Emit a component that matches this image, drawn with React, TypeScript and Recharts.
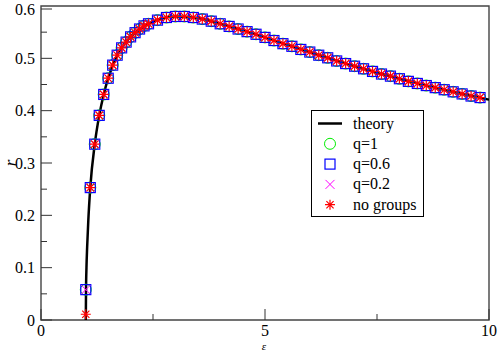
import {
  ComposedChart,
  Line,
  Scatter,
  XAxis,
  YAxis,
  ReferenceArea,
} from 'recharts'

// sample points of the simulations (epsilon)
const eps = [
  1.0, 1.1, 1.2, 1.3, 1.4, 1.5, 1.6, 1.7, 1.8, 1.9, 2.0, 2.1, 2.2, 2.3, 2.4,
  2.6, 2.8, 3.0, 3.2, 3.4, 3.6, 3.8, 4.0, 4.2, 4.4, 4.6, 4.8, 5.0, 5.2, 5.4,
  5.6, 5.8, 6.0, 6.2, 6.4, 6.6, 6.8, 7.0, 7.2, 7.4, 7.6, 7.8, 8.0, 8.2, 8.4,
  8.6, 8.8, 9.0, 9.2, 9.4, 9.6, 9.8,
]

const rQ1 = [
  0.058, 0.253, 0.336, 0.391, 0.431, 0.462, 0.487, 0.506, 0.52, 0.531, 0.541,
  0.549, 0.556, 0.562, 0.566, 0.573, 0.578, 0.58, 0.58, 0.578, 0.575, 0.571,
  0.566, 0.561, 0.556, 0.551, 0.546, 0.54, 0.534, 0.528, 0.523, 0.517, 0.512,
  0.506, 0.501, 0.495, 0.49, 0.485, 0.48, 0.475, 0.47, 0.466, 0.461, 0.456,
  0.452, 0.448, 0.444, 0.44, 0.436, 0.432, 0.428, 0.425,
]
const rQ06 = [
  0.058, 0.253, 0.336, 0.391, 0.431, 0.462, 0.487, 0.506, 0.52, 0.531, 0.541,
  0.549, 0.556, 0.562, 0.566, 0.573, 0.578, 0.58, 0.58, 0.578, 0.575, 0.571,
  0.566, 0.561, 0.556, 0.551, 0.546, 0.54, 0.534, 0.528, 0.523, 0.517, 0.512,
  0.506, 0.501, 0.495, 0.49, 0.485, 0.48, 0.475, 0.47, 0.466, 0.461, 0.456,
  0.452, 0.448, 0.444, 0.44, 0.436, 0.432, 0.428, 0.425,
]
const rQ02 = [
  0.058, 0.253, 0.336, 0.391, 0.431, 0.462, 0.487, 0.506, 0.52, 0.531, 0.541,
  0.549, 0.556, 0.562, 0.566, 0.573, 0.578, 0.58, 0.58, 0.578, 0.575, 0.571,
  0.566, 0.561, 0.556, 0.551, 0.546, 0.54, 0.534, 0.528, 0.523, 0.517, 0.512,
  0.506, 0.501, 0.495, 0.49, 0.485, 0.48, 0.475, 0.47, 0.466, 0.461, 0.456,
  0.452, 0.448, 0.444, 0.44, 0.436, 0.432, 0.428, 0.425,
]
const rNoGroups = [
  0.011, 0.253, 0.336, 0.391, 0.431, 0.462, 0.487, 0.506, 0.52, 0.531, 0.541,
  0.549, 0.556, 0.562, 0.566, 0.573, 0.578, 0.58, 0.58, 0.578, 0.575, 0.571,
  0.566, 0.561, 0.556, 0.551, 0.546, 0.54, 0.534, 0.528, 0.523, 0.517, 0.512,
  0.506, 0.501, 0.495, 0.49, 0.485, 0.48, 0.475, 0.47, 0.466, 0.461, 0.456,
  0.452, 0.448, 0.444, 0.44, 0.436, 0.432, 0.428, 0.425,
]

// theory curve
const theoryEps = [
  1.0, 1.005, 1.015, 1.03, 1.056, 1.1, 1.2, 1.3, 1.4, 1.5, 1.7, 2.0, 2.4, 3.0,
  3.5, 4.0, 5.0, 6.0, 7.0, 8.0, 9.0, 10.0,
]
const theoryR = [
  0, 0.057, 0.1, 0.139, 0.19, 0.253, 0.336, 0.391, 0.431, 0.462, 0.506, 0.541,
  0.566, 0.58, 0.577, 0.566, 0.54, 0.512, 0.485, 0.461, 0.44, 0.421,
]

const xTicks = [0, 2.5, 5, 7.5, 10]
const yTicks = [0, 0.05, 0.1, 0.15, 0.2, 0.25, 0.3, 0.35, 0.4, 0.45, 0.5, 0.55, 0.6]

const legendLabels = ['theory', 'q=1', 'q=0.6', 'q=0.2', 'no groups']

const FONT = 'Liberation Serif'
const PLOT = { left: 41, right: 489, top: 6, bottom: 320 }

const toPoints = (ys: number[]) => eps.map((x, i) => ({ x, r: ys[i] }))

const CircleMark = ({ cx, cy }: any) => (
  <circle cx={cx} cy={cy} r={5.5} fill="none" stroke="#00ee00" strokeWidth={1} />
)
const SquareMark = ({ cx, cy }: any) => (
  <rect x={cx - 5} y={cy - 5} width={10} height={10} fill="none" stroke="#0000ff" strokeWidth={1.2} />
)
const CrossMark = ({ cx, cy }: any) => (
  <path d={`M${cx - 4.5},${cy - 4.5}L${cx + 4.5},${cy + 4.5}M${cx - 4.5},${cy + 4.5}L${cx + 4.5},${cy - 4.5}`} stroke="#ff00ff" strokeWidth={1} />
)
const StarMark = ({ cx, cy }: any) => (
  <path
    d={`M${cx - 5},${cy}L${cx + 5},${cy}M${cx},${cy - 5}L${cx},${cy + 5}M${cx - 3.6},${cy - 3.6}L${cx + 3.6},${cy + 3.6}M${cx - 3.6},${cy + 3.6}L${cx + 3.6},${cy - 3.6}`}
    stroke="#ff0000"
    strokeWidth={1.2}
  />
)

const XTick = ({ x, payload }: any) => {
  const major = payload.value % 5 === 0
  return (
    <g>
      <line x1={x} x2={x} y1={PLOT.bottom} y2={PLOT.bottom - (major ? 11 : 6)} stroke="#333" />
      {major && (
        <text x={x} y={336} textAnchor="middle" fill="#000" fontFamily={FONT} fontSize={16}>
          {payload.value}
        </text>
      )}
    </g>
  )
}

const YTick = ({ y, payload }: any) => {
  const v = Math.round(payload.value * 100)
  const major = v % 10 === 0
  return (
    <g>
      <line x1={PLOT.left} x2={PLOT.left + (major ? 11 : 6)} y1={y} y2={y} stroke="#333" />
      {major && (
        <text x={35} y={y + 5.5} textAnchor="end" fill="#000" fontFamily={FONT} fontSize={16}>
          {v === 0 ? '0' : (v / 100).toFixed(1)}
        </text>
      )}
    </g>
  )
}

const legendMarks = [
  (cx: number, cy: number) => <line x1={cx - 12} x2={cx + 12} y1={cy} y2={cy} stroke="#000" strokeWidth={2.5} />,
  (cx: number, cy: number) => <CircleMark cx={cx} cy={cy} />,
  (cx: number, cy: number) => <SquareMark cx={cx} cy={cy} />,
  (cx: number, cy: number) => <CrossMark cx={cx} cy={cy} />,
  (cx: number, cy: number) => <StarMark cx={cx} cy={cy} />,
]

export default function App() {
  const theory = theoryEps.map((x, i) => ({ x, r: theoryR[i] }))
  return (
    <div style={{ position: 'absolute', left: 0, top: 0, width: 498, height: 352, background: '#fff', fontFamily: FONT }}>
      <ComposedChart width={498} height={352} margin={{ top: 6, right: 9, bottom: 0, left: 0 }}>
        <XAxis
          dataKey="x"
          type="number"
          domain={[0, 10]}
          ticks={xTicks}
          tick={<XTick />}
          tickLine={false}
          axisLine={false}
          height={32}
          allowDataOverflow
        />
        <YAxis
          dataKey="r"
          type="number"
          domain={[0, 0.6]}
          ticks={yTicks}
          tick={<YTick />}
          tickLine={false}
          axisLine={false}
          width={41}
          allowDataOverflow
        />
        <ReferenceArea x1={0} x2={10} y1={0} y2={0.6} fill="none" stroke="#444" strokeWidth={1.4} />
        <Line
          data={theory}
          dataKey="r"
          type="monotone"
          stroke="#000"
          strokeWidth={2.5}
          dot={false}
          isAnimationActive={false}
        />
        <Scatter data={toPoints(rQ1)} shape={<CircleMark />} isAnimationActive={false} />
        <Scatter data={toPoints(rQ06)} shape={<SquareMark />} isAnimationActive={false} />
        <Scatter data={toPoints(rQ02)} shape={<CrossMark />} isAnimationActive={false} />
        <Scatter data={toPoints(rNoGroups)} shape={<StarMark />} isAnimationActive={false} />
      </ComposedChart>
      <svg width={498} height={352} style={{ position: 'absolute', left: 0, top: 0, pointerEvents: 'none' }}>
        <rect x={311.5} y={110.5} width={112} height={106} fill="#fff" stroke="#000" strokeWidth={1} />
        {legendLabels.map((label, i) => {
          const cy = 123.5 + i * 20.3
          return (
            <g key={label}>
              {legendMarks[i](330, cy)}
              <text x={353} y={cy + 5} fill="#000" fontFamily={FONT} fontSize={16}>
                {label}
              </text>
            </g>
          )
        })}
        <text x={264} y={349.5} textAnchor="middle" fill="#000" fontFamily={FONT} fontSize={11} fontStyle="italic">
          ε
        </text>
        <text
          x={0}
          y={0}
          transform="translate(16,163) rotate(-90)"
          textAnchor="middle"
          fill="#000"
          fontFamily={FONT}
          fontSize={17}
          fontStyle="italic"
        >
          r
        </text>
      </svg>
    </div>
  )
}
